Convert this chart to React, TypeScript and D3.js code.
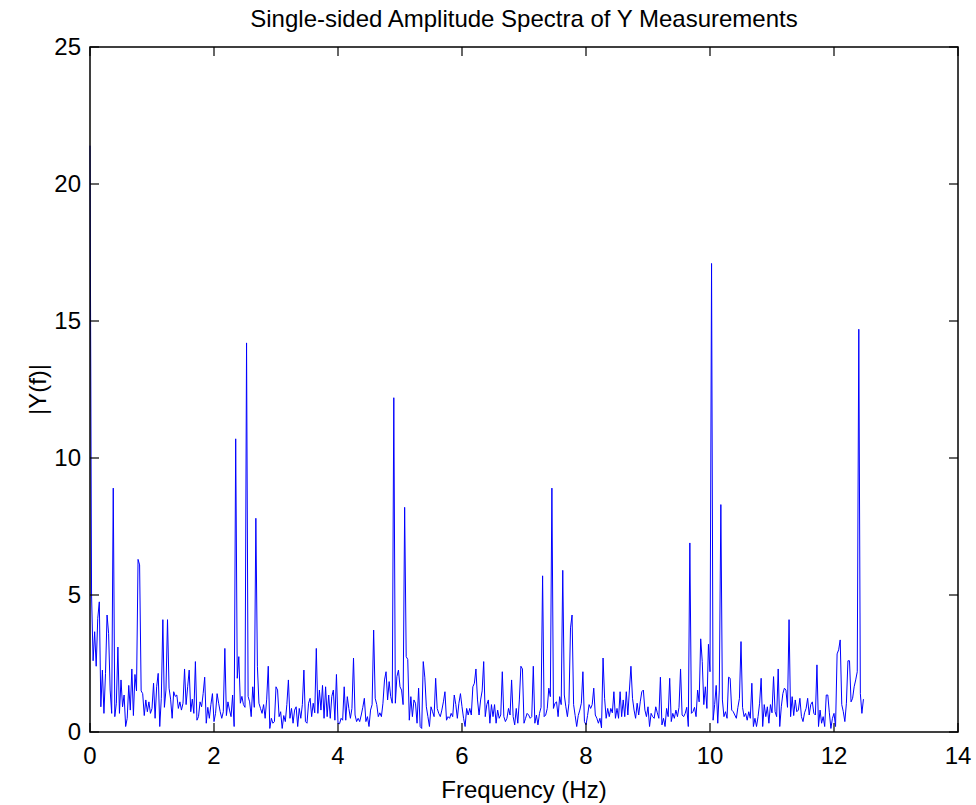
import React from "react";
import * as d3 from "d3";

// Single-sided amplitude spectrum |Y(f)|, df = 0.025 Hz in four bands
const ampBand1 = [
  21.4, 5.0, 2.6, 3.66, 2.4, 4.15, 4.75, 0.92, 2.26, 0.68,
  2.14, 4.27, 3.6, 1.53, 0.68, 8.9, 0.56, 1.05, 3.1, 0.68,
  1.9, 0.92, 1.35, 0.2, 0.5, 1.7, 0.8, 2.3, 0.6, 2.1,
  1.5, 6.3, 6.1, 1.5, 1.4, 0.6, 1.17, 0.74, 1.1, 0.68,
  0.86, 1.78, 0.5, 1.65, 2.14, 0.2, 1.23, 4.1, 0.9, 1.53,
  4.1, 1.6, 1.2, 0.5, 1.47, 1.3, 1.35, 0.86, 1.1, 0.8,
  1.05, 2.3, 1.0, 1.65, 2.26, 0.74, 1.2, 0.68, 2.57, 0.43,
  0.56, 1.1, 0.92, 1.4, 2.0, 0.32, 0.9, 0.5, 1.0, 1.4,
  0.38, 0.68, 1.4, 1.05, 0.74, 0.5, 0.74, 3.05, 0.6, 1.1,
  0.8, 0.56, 1.35, 0.2, 10.7, 1.96, 2.75, 1.05, 1.3, 1.0,
  0.9, 14.2, 1.3, 1.1, 0.56, 1.65, 0.9, 7.8, 2.4, 1.05,
  0.86, 0.68, 1.0, 0.5, 1.2, 2.4, 0.13, 0.5, 0.32, 0.38,
  1.65, 1.53, 0.56, 0.74, 0.13, 0.6, 0.38, 1.0,
];
const ampBand2 = [
  1.9, 0.5, 0.86, 0.32, 0.8, 0.92, 0.2, 0.86, 0.5, 1.0,
  2.26, 0.38, 0.32, 1.05, 1.23, 0.56, 1.05, 0.7, 3.05, 0.68,
  1.53, 0.8, 1.7, 0.5, 1.65, 0.56, 1.35, 0.5, 1.3, 1.53,
  0.43, 2.1, 0.32, 0.3, 0.5, 0.43, 1.65, 0.43, 1.29, 0.86,
  0.5, 0.86, 2.7, 0.62, 0.38, 0.5, 0.38, 0.62, 0.9, 1.23,
  0.38, 0.56, 0.2, 0.8, 1.0, 3.72, 1.23, 1.0, 0.56, 0.7,
  0.56, 1.05, 1.9, 2.2, 1.17, 1.84, 1.29, 1.05, 12.2, 1.05,
  2.02, 2.26, 1.65, 1.53, 1.0, 8.2, 2.75, 2.65, 0.43, 1.29,
  0.56, 1.17, 1.05, 0.32, 1.6, 0.2, 0.13, 2.57, 2.0, 0.92,
  0.56, 0.2, 0.92, 0.74, 0.56, 1.96, 0.86, 0.68, 0.56, 0.8,
  1.1, 1.47, 0.43, 0.56, 0.5, 0.68, 0.56, 1.35, 1.0, 0.5,
  1.05, 1.4, 0.92, 0.5, 0.2, 0.86, 0.62, 0.86, 0.62, 1.65,
  1.78, 2.3, 1.17, 0.62, 1.17, 1.5, 2.57,
];
const ampBand3 = [
  0.56, 1.0, 1.17, 0.32, 1.0, 0.56, 1.0, 0.32, 0.8, 0.5,
  0.62, 2.2, 0.56, 0.38, 0.5, 0.86, 0.62, 1.9, 0.56, 0.26,
  0.86, 0.32, 1.17, 2.4, 2.3, 0.32, 0.5, 0.68, 0.62, 0.5,
  0.56, 2.4, 0.32, 0.62, 0.26, 0.68, 0.9, 5.7, 0.56, 0.62,
  0.86, 1.6, 1.29, 8.9, 0.86, 1.05, 1.1, 0.56, 1.29, 1.0,
  5.9, 1.35, 0.92, 0.56, 1.05, 3.8, 4.27, 1.0, 0.6, 0.2,
  0.6, 0.8, 1.05, 2.2, 0.38, 0.26, 0.6, 1.0, 0.86, 1.0,
  1.6, 0.62, 0.5, 0.32, 0.5, 0.15, 2.7, 1.23, 0.5, 0.86,
  0.56, 0.86, 0.7, 1.47, 0.5, 0.86, 0.5, 1.47, 0.56, 1.17,
  0.56, 1.47, 0.62, 1.53, 2.4, 1.23, 0.8, 0.5, 1.05, 0.62,
  1.1, 1.47, 1.53, 0.8, 0.56, 0.92, 0.2, 0.68, 0.56, 0.5,
  0.92, 0.7, 0.5, 2.0, 0.26, 0.5, 0.2, 0.86, 0.56, 1.96,
  0.38, 0.68, 0.5, 0.8, 0.56, 0.9, 2.3,
];
const ampBand4 = [
  0.62, 0.56, 0.68, 0.9, 0.2, 6.9, 0.68, 0.74, 0.9, 0.56,
  1.53, 1.1, 3.4, 2.57, 1.0, 1.65, 0.86, 3.2, 2.2, 17.1,
  0.43, 1.0, 1.7, 0.32, 1.53, 8.3, 1.17, 0.56, 0.74, 0.5,
  2.0, 1.96, 0.8, 0.74, 0.62, 0.5, 0.9, 1.23, 3.3, 0.9,
  0.56, 0.68, 0.43, 0.74, 0.5, 1.78, 0.2, 0.5, 0.2, 0.56,
  1.05, 1.96, 0.2, 1.0, 0.56, 0.92, 0.32, 1.0, 0.7, 2.02,
  0.74, 0.56, 2.3, 0.2, 0.92, 1.4, 1.6, 1.53, 0.9, 4.1,
  0.56, 1.29, 0.6, 1.17, 0.74, 0.8, 1.23, 0.56, 0.38, 0.7,
  0.86, 1.23, 0.62, 1.0, 1.1, 0.68, 0.62, 2.45, 0.2, 0.8,
  0.32, 0.56, 0.2, 1.35, 1.35, 0.7, 0.13, 0.5, 0.68, 0.2,
  2.85, 3.0, 3.36, 1.0, 0.74, 0.38, 1.05, 2.6, 2.6, 1.1,
  1.23, 1.65, 1.9, 2.2, 14.7, 1.4, 0.68, 1.2,
];
const freqStep = 0.025;
const xTicks = [0, 2, 4, 6, 8, 10, 12, 14];
const yTicks = [0, 5, 10, 15, 20, 25];
const titleText = "Single-sided Amplitude Spectra of Y Measurements";
const xLabel = "Frequency (Hz)";
const yLabel = "|Y(f)|";

const W = 976;
const H = 805;
const M = { left: 90, right: 18, top: 47, bottom: 73 };
const FONT = "'Liberation Sans', Arial, Helvetica, sans-serif";

export default function App() {
  const amps = [...ampBand1, ...ampBand2, ...ampBand3, ...ampBand4];
  const data = amps.map((v, i) => ({ f: i * freqStep, v }));
  const x = d3.scaleLinear().domain([0, 14]).range([M.left, W - M.right]);
  const y = d3.scaleLinear().domain([0, 25]).range([H - M.bottom, M.top]);
  const line = d3
    .line<{ f: number; v: number }>()
    .x((d) => x(d.f))
    .y((d) => y(d.v));
  const x0 = x(0), x1 = x(14), y0 = y(0), y1 = y(25);
  const tl = 9;
  const fs = 24;
  return (
    <svg
      width={W}
      height={H}
      style={{ position: "absolute", left: 0, top: 0, background: "#fff" }}
      fontFamily={FONT}
    >
      <rect x={0} y={0} width={W} height={H} fill="#fff" />
      <path d={line(data) || ""} fill="none" stroke="#0000ff" strokeWidth={1} />
      {/* box */}
      <rect x={x0} y={y1} width={x1 - x0} height={y0 - y1} fill="none" stroke="#000" strokeWidth={1.5} />
      {xTicks.map((t) => (
        <g key={"xt" + t}>
          <line x1={x(t)} x2={x(t)} y1={y0} y2={y0 - tl} stroke="#000" strokeWidth={1.2} />
          <line x1={x(t)} x2={x(t)} y1={y1} y2={y1 + tl} stroke="#000" strokeWidth={1.2} />
          <text x={x(t)} y={764} textAnchor="middle" fontSize={fs} fill="#000">
            {t}
          </text>
        </g>
      ))}
      {yTicks.map((t) => (
        <g key={"yt" + t}>
          <line x1={x0} x2={x0 + tl} y1={y(t)} y2={y(t)} stroke="#000" strokeWidth={1.2} />
          <line x1={x1} x2={x1 - tl} y1={y(t)} y2={y(t)} stroke="#000" strokeWidth={1.2} />
          <text x={81} y={y(t)} dy="0.35em" textAnchor="end" fontSize={fs} fill="#000">
            {t}
          </text>
        </g>
      ))}
      <text x={(x0 + x1) / 2} y={27} textAnchor="middle" fontSize={fs} fill="#000">
        {titleText}
      </text>
      <text x={(x0 + x1) / 2} y={798} textAnchor="middle" fontSize={fs} fill="#000">
        {xLabel}
      </text>
      <text
        transform={`translate(46, ${(y0 + y1) / 2}) rotate(-90)`}
        textAnchor="middle"
        fontSize={fs}
        fill="#000"
      >
        {yLabel}
      </text>
    </svg>
  );
}
